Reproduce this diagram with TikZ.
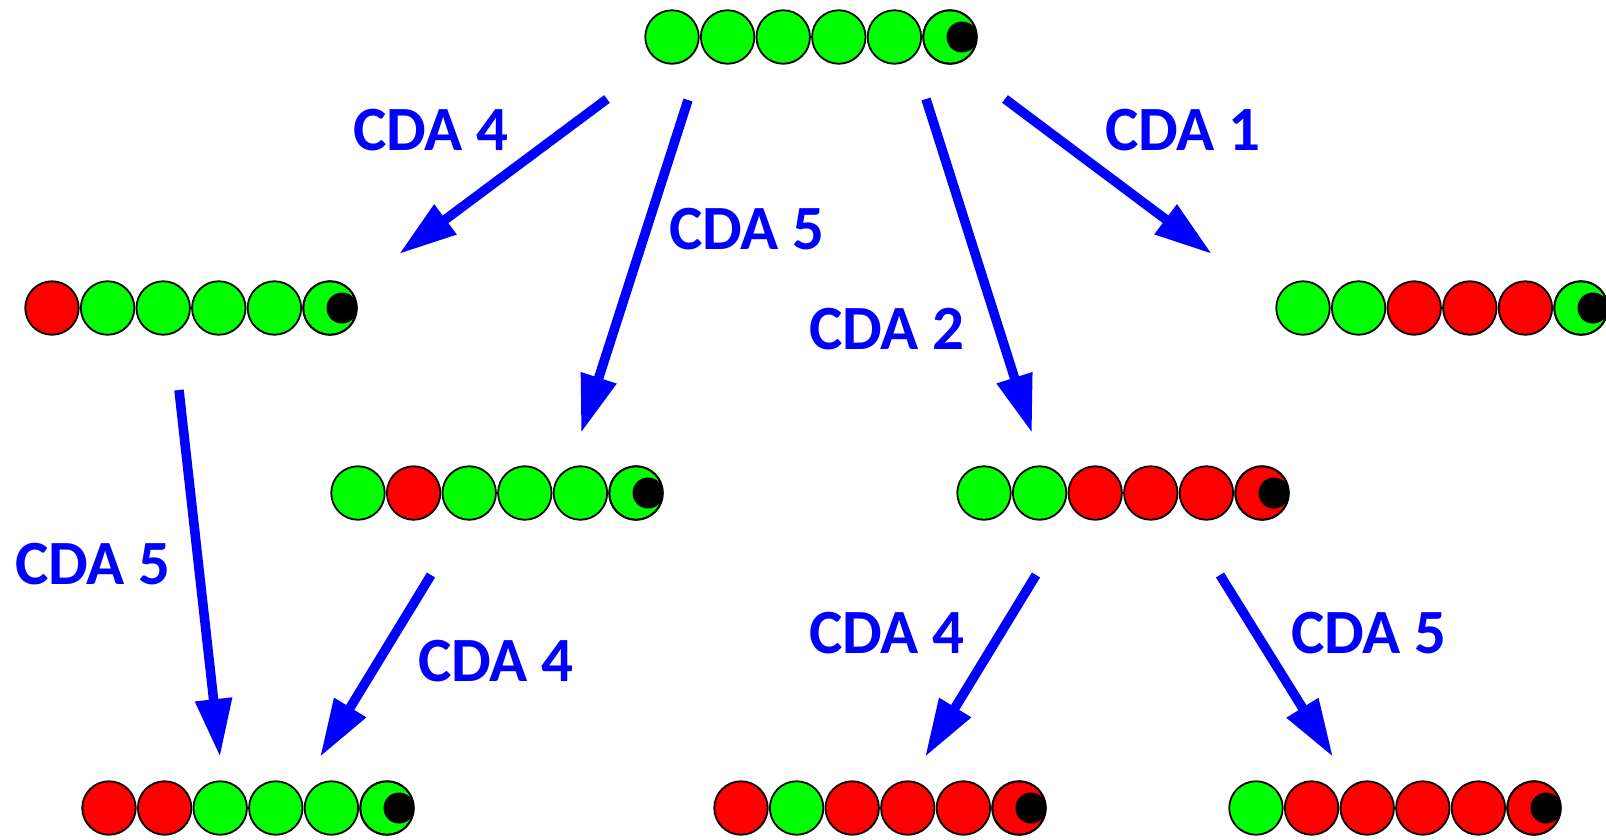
\documentclass[tikz,border=0pt]{standalone}
\usepackage{fontspec}
\setmainfont{Carlito}
\usetikzlibrary{arrows.meta}
\definecolor{G}{RGB}{0,255,0}
\definecolor{R}{RGB}{255,0,0}
\definecolor{B}{RGB}{0,0,255}
\tikzset{
  ball/.style={circle, draw=black, line width=1.8pt, minimum size=53.5pt, inner sep=0pt},
  arr/.style={draw=B, line width=9.5pt, -{Triangle[length=58pt,width=35pt]}, fill=B},
  lbl/.style={text=B, font=\fontsize{63}{75}\selectfont\bfseries, anchor=base, inner sep=0pt},
}
\newcommand\dnachain[4]{%
  \foreach \c [count=\i] in {#4} {
    \node[ball, fill=\c] (#1-\i) at ({#2+55.6*(\i-1)}, #3) {};
  }
  \begin{scope}
    \clip (#1-6.center) circle (27pt);
    \fill[black] ([xshift=12pt]#1-6.center) circle (15.5pt);
  \end{scope}
  \draw[line width=1.8pt] (#1-6.center) circle (26.75pt);
}
\begin{document}
\begin{tikzpicture}[x=1pt,y=-1pt]
\useasboundingbox (0,0) rectangle (1606,839);
% chains
\dnachain{top}{672}{37}{G,G,G,G,G,G}
\dnachain{ml}{52}{308}{R,G,G,G,G,G}
\dnachain{mr}{1303}{308}{G,G,R,R,R,G}
\dnachain{cl}{358}{493}{G,R,G,G,G,G}
\dnachain{cr}{984}{493}{G,G,R,R,R,R}
\dnachain{bl}{109}{808}{R,R,G,G,G,G}
\dnachain{bm}{741}{808}{R,G,R,R,R,R}
\dnachain{br}{1256}{808}{G,R,R,R,R,R}
% arrow end points
\coordinate (a1s) at (607,99);   \coordinate (a1e) at (399,254);
\coordinate (a2s) at (688,100);  \coordinate (a2e) at (581,433);
\coordinate (a3s) at (926,99);   \coordinate (a3e) at (1032,433);
\coordinate (a4s) at (1005,99);  \coordinate (a4e) at (1212,254);
\coordinate (a5s) at (179,390);  \coordinate (a5e) at (220,757);
\coordinate (a6s) at (431,575);  \coordinate (a6e) at (320,757);
\coordinate (a7s) at (1036,575); \coordinate (a7e) at (925,757);
\coordinate (a8s) at (1220,575); \coordinate (a8e) at (1333,757);
\foreach \k in {1,...,8} { \draw[arr] (a\k s) -- (a\k e); }
% labels
\node[lbl] (l1) at (431,150) {CDA 4};
\node[lbl] (l2) at (747,249) {CDA 5};
\node[lbl] (l3) at (887,349) {CDA 2};
\node[lbl] (l4) at (1183,150) {CDA 1};
\node[lbl] (l5) at (93,584) {CDA 5};
\node[lbl] (l6) at (496,681) {CDA 4};
\node[lbl] (l7) at (887,653) {CDA 4};
\node[lbl] (l8) at (1369,653) {CDA 5};
\end{tikzpicture}
\end{document}
